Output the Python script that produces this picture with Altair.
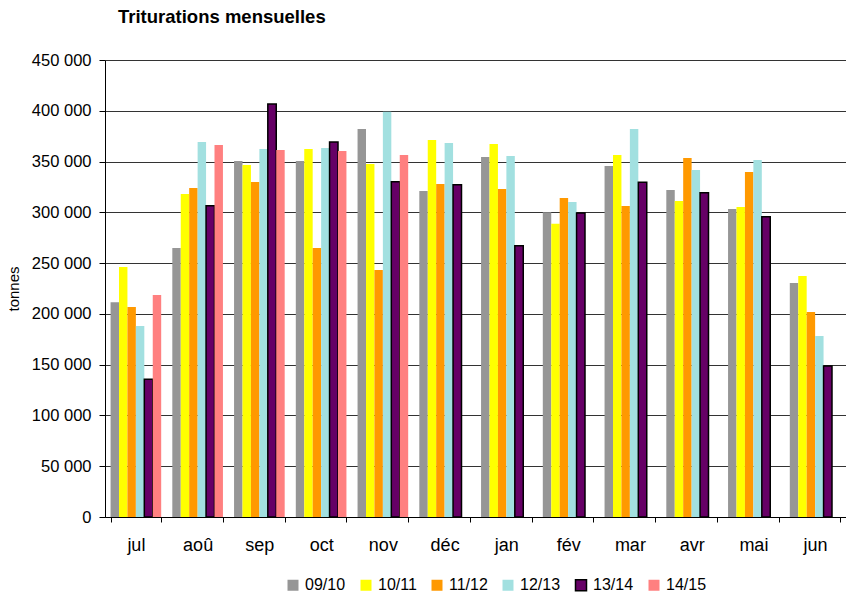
import altair as alt
import pandas as pd

months = ["jul", "aoû", "sep", "oct", "nov", "déc", "jan", "fév", "mar", "avr", "mai", "jun"]
seasons = ["09/10", "10/11", "11/12", "12/13", "13/14", "14/15"]
colors = ["#969696", "#FFFF00", "#FF9900", "#A2E0E0", "#660066", "#FF8080"]
strokes = ["transparent", "transparent", "transparent", "transparent", "#000000", "transparent"]

s0910 = [211400, 264900, 350500, 350500, 382100, 321000, 354500, 300000, 345600, 322000, 303300, 230400]
s1011 = [246200, 318000, 346600, 362400, 347600, 371200, 367300, 288800, 356500, 311200, 305200, 237300]
s1112 = [206800, 324000, 329900, 264900, 243200, 327900, 323000, 314100, 306200, 353500, 339700, 201900]
s1213 = [188100, 369300, 362400, 363300, 399100, 368300, 355500, 310200, 382100, 341700, 351500, 178200]
s1314 = [135600, 306600, 406700, 369300, 330200, 327200, 267200, 299300, 329500, 319400, 295700, 148700]
s1415 = [218600, 366300, 361400, 360400, 356500, None, None, None, None, None, None, None]

series = [s0910, s1011, s1112, s1213, s1314, s1415]

rows = []
for name, vals in zip(seasons, series):
    for m, v in zip(months, vals):
        if v is not None:
            rows.append({"mois": m, "campagne": name, "tonnes": v})
df = pd.DataFrame(rows)

FONT = "Liberation Sans"

legend_kw = dict(title=None, orient="none", direction="horizontal",
                 legendX=180, legendY=517,
                 symbolType="square", symbolSize=121,
                 labelFont=FONT, labelFontSize=16, labelColor="#000",
                 labelOffset=4, columnPadding=11, columns=6)

chart = alt.Chart(df).mark_bar(strokeWidth=1.5).encode(
    x=alt.X("mois:N", sort=months,
            scale=alt.Scale(paddingInner=0.18, paddingOuter=0.09),
            axis=alt.Axis(title=None, labelAngle=0, labelFontSize=18, labelFont=FONT,
                          labelColor="#000", tickBand="extent", tickSize=5,
                          tickColor="#000", domainColor="#000", labelPadding=14)),
    xOffset=alt.XOffset("campagne:N", sort=seasons,
                        scale=alt.Scale(paddingInner=0, paddingOuter=0)),
    y=alt.Y("tonnes:Q",
            scale=alt.Scale(domain=[0, 450000], nice=False),
            axis=alt.Axis(title="tonnes", titleFont=FONT, titleFontSize=15,
                          titleFontWeight="normal", titleColor="#000", titlePadding=10,
                          values=list(range(0, 450001, 50000)),
                          labelExpr="replace(format(datum.value, ','), ',', ' ')",
                          labelFont=FONT, labelFontSize=16.5, labelColor="#000",
                          labelPadding=8, tickSize=6, tickColor="#000",
                          domainColor="#000", gridColor="#333", gridWidth=1)),
    color=alt.Color("campagne:N", sort=seasons,
                    scale=alt.Scale(domain=seasons, range=colors),
                    legend=alt.Legend(**legend_kw)),
    stroke=alt.Stroke("campagne:N", sort=seasons,
                      scale=alt.Scale(domain=seasons, range=strokes),
                      legend=alt.Legend(**legend_kw)),
).properties(
    width=741,
    height=457,
    autosize=alt.AutoSizeParams(type="none"),
    padding={"left": 97, "top": 52, "right": 0, "bottom": 76},
    title=alt.TitleParams("Triturations mensuelles", anchor="start", frame="group",
                          fontSize=18.5, fontWeight="bold", font=FONT, color="#000",
                          dx=13, offset=26),
).configure_view(stroke="transparent")

chart.save("out.html", embed_options={"renderer": "svg", "actions": False})
